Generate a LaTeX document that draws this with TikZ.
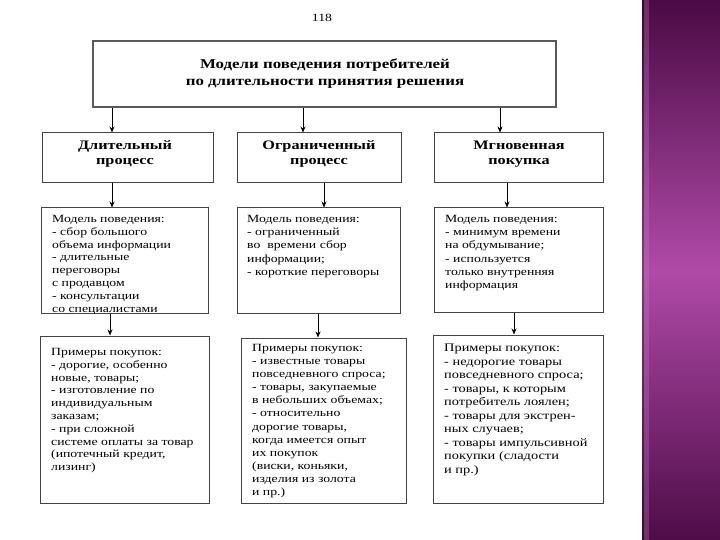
\documentclass[tikz,border=0pt]{standalone}
\usepackage{fontspec}
\setmainfont{Liberation Serif}[FakeStretch=1.25]
\usetikzlibrary{arrows.meta}
\definecolor{bandtop}{HTML}{4A0A44}
\definecolor{bandmid}{HTML}{B04AA8}
\definecolor{bandbot}{HTML}{4E0C48}
\definecolor{edgegray}{HTML}{444444}
\tikzset{
  box/.style={draw=edgegray, line width=1pt, rectangle, inner sep=0pt},
  txt/.style={anchor=north west, inner sep=0pt, align=left, font=\fontsize{11}{12.8}\selectfont},
  head/.style={align=center, inner sep=0pt, font=\bfseries\fontsize{13}{15}\selectfont},
  arr/.style={draw=black, line width=0.9pt, -{Stealth[length=6pt,width=5pt]}}
}
\begin{document}
\begin{tikzpicture}[x=1pt,y=-1pt]
\useasboundingbox (0,0) rectangle (720,540);
\fill[white] (0,0) rectangle (720,540);
% purple band
\shade[top color=bandtop, bottom color=bandmid] (642,0) rectangle (720,270);
\shade[top color=bandmid, bottom color=bandbot] (642,270) rectangle (720,540);
\fill[black, opacity=0.25] (642,0) rectangle (644,540);
\fill[bandmid!70!white, opacity=0.3] (644,0) rectangle (649,540);

\node[font=\fontsize{11}{12}\selectfont] (pg) at (322,18) {118};

% top box
\node[box, draw=gray!70!black, line width=1.5pt, minimum width=463pt, minimum height=66pt] (top) at (324.5,74) {};
\node[head, font=\bfseries\fontsize{13.5}{17}\selectfont] (toptxt) at (325,74) {Модели поведения потребителей\\по длительности принятия решения};

% headers
\node[box, minimum width=171pt, minimum height=50pt] (L2) at (127.5,158) {};
\node[box, minimum width=164pt, minimum height=50pt] (M2) at (319,158) {};
\node[box, minimum width=169pt, minimum height=50pt] (R2) at (518.5,158) {};
\node[head] (L2t) at (125,154) {Длительный\\процесс};
\node[head] (M2t) at (319,154) {Ограниченный\\процесс};
\node[head] (R2t) at (519,154) {Мгновенная\\покупка};

% row 3
\node[box, minimum width=167pt, minimum height=105pt] (L3) at (124.5,260.5) {};
\node[box, minimum width=163pt, minimum height=105pt] (M3) at (318.5,260.5) {};
\node[box, minimum width=169pt, minimum height=104pt] (R3) at (518.5,260) {};
\node[txt] (L3t) at (52,215) {Модель поведения:\\- сбор большого\\объема информации\\- длительные\\переговоры\\с продавцом\\- консультации\\со специалистами};
\node[txt, font=\fontsize{11}{13.2}\selectfont] (M3t) at (247,215) {Модель поведения:\\- ограниченный\\во \ времени сбор\\информации;\\- короткие переговоры};
\node[txt, font=\fontsize{11}{13.2}\selectfont] (R3t) at (445,215) {Модель поведения:\\- минимум времени\\на обдумывание;\\- используется\\только внутренняя\\информация};

% row 4
\node[box, minimum width=169pt, minimum height=167pt] (L4) at (124.5,419.5) {};
\node[box, minimum width=165pt, minimum height=165pt] (M4) at (323.5,420.5) {};
\node[box, minimum width=170pt, minimum height=168pt] (R4) at (518,419) {};
\node[txt] (L4t) at (51,348) {Примеры покупок:\\- дорогие, особенно\\новые, товары;\\- изготовление по\\индивидуальным\\заказам;\\- при сложной\\системе оплаты за товар\\(ипотечный кредит,\\лизинг)};
\node[txt, font=\fontsize{11}{13.1}\selectfont] (M4t) at (252,344) {Примеры покупок:\\- известные товары\\повседневного спроса;\\- товары, закупаемые\\в небольших объемах;\\- относительно\\дорогие товары,\\когда имеется опыт\\их покупок\\(виски, коньяки,\\изделия из золота\\и пр.)};
\node[txt, font=\fontsize{11.5}{13.5}\selectfont] (R4t) at (444,344) {Примеры покупок:\\- недорогие товары\\повседневного спроса;\\- товары, к которым\\потребитель лоялен;\\- товары для экстрен-\\ных случаев;\\- товары импульсивной\\покупки (сладости\\и пр.)};

% connector x-positions
\coordinate (a1) at (112,0);
\coordinate (a2) at (303,0);
\coordinate (a3) at (500,0);
\coordinate (b1) at (112,0);
\coordinate (b2) at (324,0);
\coordinate (b3) at (507,0);
\coordinate (c1) at (110,0);
\coordinate (c2) at (318,0);
\coordinate (c3) at (514,0);

\draw[arr] (top.south -| a1) -- (L2.north -| a1);
\draw[arr] (top.south -| a2) -- (M2.north -| a2);
\draw[arr] (top.south -| a3) -- (R2.north -| a3);
\draw[arr] (L2.south -| b1) -- (L3.north -| b1);
\draw[arr] (M2.south -| b2) -- (M3.north -| b2);
\draw[arr] (R2.south -| b3) -- (R3.north -| b3);
\draw[arr] (L3.south -| c1) -- (L4.north -| c1);
\draw[arr] (M3.south -| c2) -- (M4.north -| c2);
\draw[arr] (R3.south -| c3) -- (R4.north -| c3);
\end{tikzpicture}
\end{document}
